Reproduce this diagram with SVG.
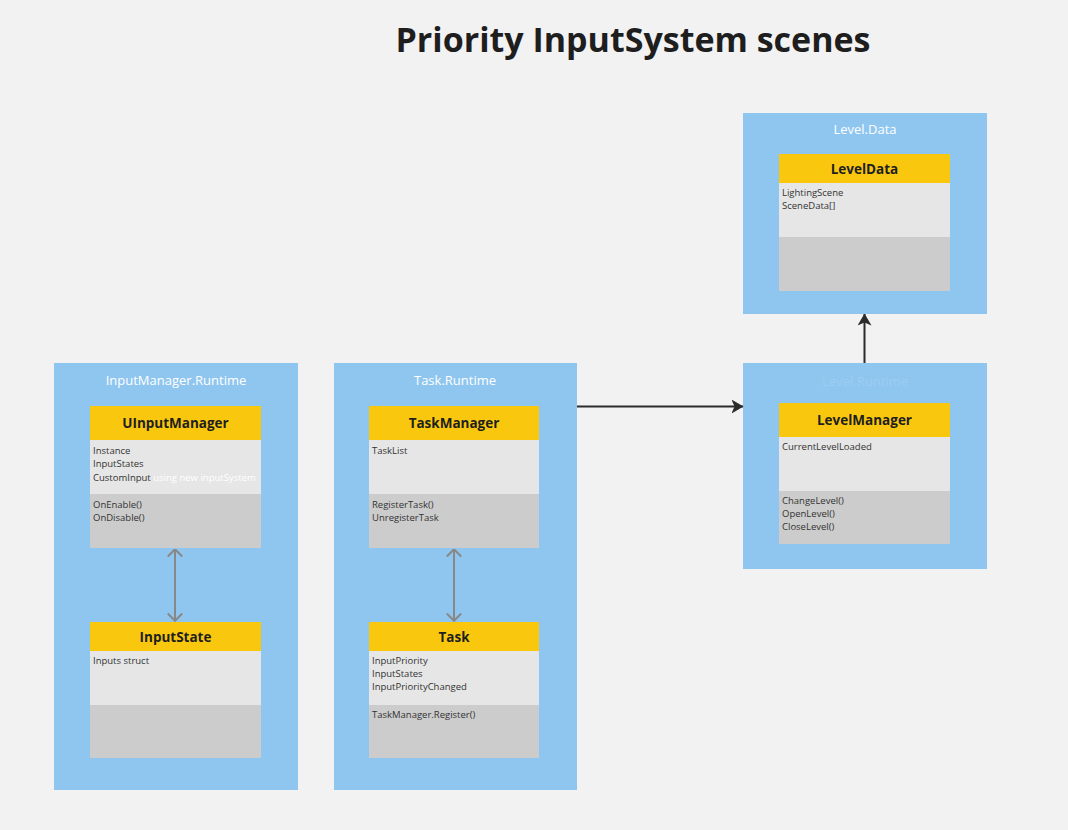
<svg xmlns="http://www.w3.org/2000/svg" width="1068" height="830" viewBox="0 0 1068 830">
<style>
.bg{fill:#f2f2f2}
.pkg{fill:#8fc6ef}
.pkgl{font-family:"Open Sans","Noto Sans",sans-serif;font-size:13px;fill:#ffffff;text-anchor:middle}
.hdr{fill:#f9c80e}
.att{fill:#e6e6e6}
.met{fill:#cccccc}
.cn{font-family:"Open Sans","Noto Sans",sans-serif;font-size:13.5px;font-weight:bold;fill:#1e1e1e;text-anchor:middle}
.mb{font-family:"Open Sans","Noto Sans",sans-serif;font-size:9.5px;fill:#333333}
.title{font-family:"Open Sans","Noto Sans",sans-serif;font-size:34px;font-weight:bold;fill:#1e1e1e;text-anchor:middle}
.dep{stroke:#2b2b2b;stroke-width:2;fill:none}
.assoc{stroke:#888888;stroke-width:2;fill:none}
</style>
<defs>
<marker id="filled" viewBox="0 0 12 14" refX="11.5" refY="7" markerWidth="12" markerHeight="14" orient="auto-start-reverse" markerUnits="userSpaceOnUse">
<path d="M0,0 L12,7 L0,14 L3,7 Z" fill="#2b2b2b"/>
</marker>
<marker id="open" viewBox="0 0 9 16" refX="8.5" refY="8" markerWidth="9" markerHeight="16" orient="auto-start-reverse" markerUnits="userSpaceOnUse">
<path d="M1,0.8 L8.3,8 L1,15.2" fill="none" stroke="#888888" stroke-width="2"/>
</marker>
</defs>
<rect class="bg" x="0" y="0" width="1068" height="830"/>
<text class="title" x="633" y="52">Priority InputSystem scenes</text>

<g id="pkg-inputmanager">
<rect class="pkg" x="54" y="363" width="244" height="427"/>
<text class="pkgl" x="176" y="385">InputManager.Runtime</text>
</g>
<g id="pkg-task">
<rect class="pkg" x="334" y="363" width="243" height="427"/>
<text class="pkgl" x="455" y="385">Task.Runtime</text>
</g>
<g id="pkg-leveldata">
<rect class="pkg" x="743" y="113" width="244" height="201"/>
<text class="pkgl" x="865" y="134">Level.Data</text>
</g>
<g id="pkg-levelruntime">
<rect class="pkg" x="743" y="363" width="244" height="206"/>
<text class="pkgl" x="865" y="386" style="fill:#9dcdf2">Level.Runtime</text>
</g>

<g id="UInputManager">
<rect class="hdr" x="90" y="406" width="171" height="34"/>
<rect class="att" x="90" y="440" width="171" height="54"/>
<rect class="met" x="90" y="494" width="171" height="54"/>
<text class="cn" x="175.5" y="428">UInputManager</text>
<text class="mb" x="93" y="454">Instance</text>
<text class="mb" x="93" y="467">InputStates</text>
<text class="mb" x="93" y="481">CustomInput <tspan fill="#ffffff">using new inputSystem</tspan></text>
<text class="mb" x="93" y="508">OnEnable()</text>
<text class="mb" x="93" y="521">OnDisable()</text>
</g>

<g id="InputState">
<rect class="hdr" x="90" y="622" width="171" height="29"/>
<rect class="att" x="90" y="651" width="171" height="54"/>
<rect class="met" x="90" y="705" width="171" height="53"/>
<text class="cn" x="175.5" y="641.5">InputState</text>
<text class="mb" x="93" y="664">Inputs struct</text>
</g>

<g id="TaskManager">
<rect class="hdr" x="369" y="406" width="170" height="34"/>
<rect class="att" x="369" y="440" width="170" height="54"/>
<rect class="met" x="369" y="494" width="170" height="54"/>
<text class="cn" x="454" y="428">TaskManager</text>
<text class="mb" x="372" y="454">TaskList</text>
<text class="mb" x="372" y="508">RegisterTask()</text>
<text class="mb" x="372" y="521">UnregisterTask</text>
</g>

<g id="Task">
<rect class="hdr" x="369" y="622" width="170" height="29"/>
<rect class="att" x="369" y="651" width="170" height="54"/>
<rect class="met" x="369" y="705" width="170" height="53"/>
<text class="cn" x="454" y="641.5">Task</text>
<text class="mb" x="372" y="664">InputPriority</text>
<text class="mb" x="372" y="677">InputStates</text>
<text class="mb" x="372" y="690">InputPriorityChanged</text>
<text class="mb" x="372" y="718">TaskManager.Register()</text>
</g>

<g id="LevelData">
<rect class="hdr" x="779" y="154" width="171" height="29"/>
<rect class="att" x="779" y="183" width="171" height="54"/>
<rect class="met" x="779" y="237" width="171" height="54"/>
<text class="cn" x="864.5" y="173.5">LevelData</text>
<text class="mb" x="782" y="196">LightingScene</text>
<text class="mb" x="782" y="209">SceneData[]</text>
</g>

<g id="LevelManager">
<rect class="hdr" x="779" y="403" width="171" height="34"/>
<rect class="att" x="779" y="437" width="171" height="54"/>
<rect class="met" x="779" y="491" width="171" height="53"/>
<text class="cn" x="864.5" y="425">LevelManager</text>
<text class="mb" x="782" y="450">CurrentLevelLoaded</text>
<text class="mb" x="782" y="504">ChangeLevel()</text>
<text class="mb" x="782" y="517">OpenLevel()</text>
<text class="mb" x="782" y="530">CloseLevel()</text>
</g>

<g id="connectors">
<line class="dep" x1="577" y1="406.5" x2="743" y2="406.5" marker-end="url(#filled)"/>
<line class="dep" x1="864.5" y1="363" x2="864.5" y2="314" marker-end="url(#filled)"/>
<line class="assoc" x1="175" y1="549" x2="175" y2="621" marker-start="url(#open)" marker-end="url(#open)"/>
<line class="assoc" x1="454" y1="549" x2="454" y2="621" marker-start="url(#open)" marker-end="url(#open)"/>
</g>
</svg>
